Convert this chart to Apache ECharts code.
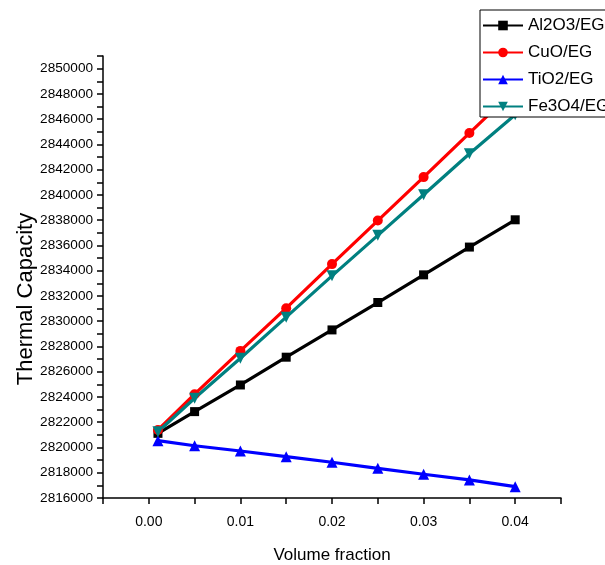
<!DOCTYPE html>
<html>
<head>
<meta charset="utf-8">
<script src="https://cdn.jsdelivr.net/npm/echarts@6/dist/echarts.min.js"></script>
<style>html,body{margin:0;padding:0;background:#fff}#c{width:605px;height:565px}</style>
</head>
<body>
<div id="c"></div>
<script>
const xValues = [0.001, 0.005, 0.01, 0.015, 0.02, 0.025, 0.03, 0.035, 0.04];
const al2o3 = [2821120, 2822840, 2824950, 2827150, 2829310, 2831480, 2833670, 2835870, 2838030];
const cuo   = [2821390, 2824220, 2827650, 2831030, 2834520, 2837970, 2841410, 2844900, 2848350];
const tio2  = [2820540, 2820140, 2819720, 2819270, 2818830, 2818350, 2817880, 2817430, 2816900];
const fe3o4 = [2821250, 2823900, 2827070, 2830320, 2833590, 2836800, 2840010, 2843260, 2846350];
const seriesNames = ['Al2O3/EG', 'CuO/EG', 'TiO2/EG', 'Fe3O4/EG'];
const xTickLabels = ['0.00', '0.01', '0.02', '0.03', '0.04'];

const FONT = '"Liberation Sans", Arial, sans-serif';
const pairs = arr => xValues.map((x, i) => [x, arr[i]]);

const chart = echarts.init(document.getElementById('c'), null, {renderer: 'canvas'});
const mk = (name, data, color, symbol, size, rot) => ({
  name, type: 'line', data: pairs(data),
  symbol, symbolSize: size, symbolRotate: rot || 0,
  lineStyle: {color, width: 3.2},
  itemStyle: {color},
  emphasis: {disabled: true},
  animation: false
});

chart.setOption({
  animation: false,
  backgroundColor: '#fff',
  grid: {left: 103, right: 44, top: 56, bottom: 67, containLabel: false, outerBoundsMode: 'none'},
  legend: {
    orient: 'vertical', left: 480, top: 10,
    padding: [7, 0, 2, 2],
    itemGap: 10, itemWidth: 40, itemHeight: 12,
    backgroundColor: '#fff', borderColor: '#000', borderWidth: 1,
    textStyle: {fontFamily: FONT, fontSize: 17, color: '#000'},
    data: seriesNames
  },
  xAxis: {
    type: 'value', min: -0.005, max: 0.045, interval: 0.005,
    name: 'Volume fraction', nameLocation: 'middle', nameGap: 49, nameMoveOverlap: false,
    nameTextStyle: {fontFamily: FONT, fontSize: 17, color: '#000'},
    axisLine: {onZero: false, lineStyle: {color: '#000', width: 1.5}},
    axisTick: {show: true, length: 6, lineStyle: {color: '#000', width: 1.5}},
    axisLabel: {
      fontFamily: FONT, fontSize: 14, color: '#000', margin: 17,
      formatter: v => {
        const k = Math.round(v * 1000);
        if (k < 0 || k % 10 !== 0) return '';
        return xTickLabels[k / 10] || '';
      }
    },
    splitLine: {show: false}
  },
  yAxis: {
    type: 'value', min: 2816000, max: 2851000, interval: 1000,
    name: 'Thermal Capacity', nameLocation: 'middle', nameGap: 66, nameMoveOverlap: false,
    nameTextStyle: {fontFamily: FONT, fontSize: 22, color: '#000', padding: [0, 44, 0, 0]},
    axisLine: {show: true, onZero: false, lineStyle: {color: '#000', width: 1.5}},
    axisTick: {show: true, length: 6, lineStyle: {color: '#000', width: 1.5}},
    axisLabel: {
      fontFamily: FONT, fontSize: 13.6, color: '#000', margin: 10,
      formatter: v => (Math.round(v) % 2000 === 0 && v <= 2850000) ? String(Math.round(v)) : ''
    },
    splitLine: {show: false}
  },
  series: [
    mk(seriesNames[0], al2o3, '#000000', 'rect', 9),
    mk(seriesNames[1], cuo, '#ff0000', 'circle', 10),
    mk(seriesNames[2], tio2, '#0000ff', 'triangle', 11),
    mk(seriesNames[3], fe3o4, '#008080', 'triangle', 11, 180)
  ]
});
</script>
</body>
</html>
